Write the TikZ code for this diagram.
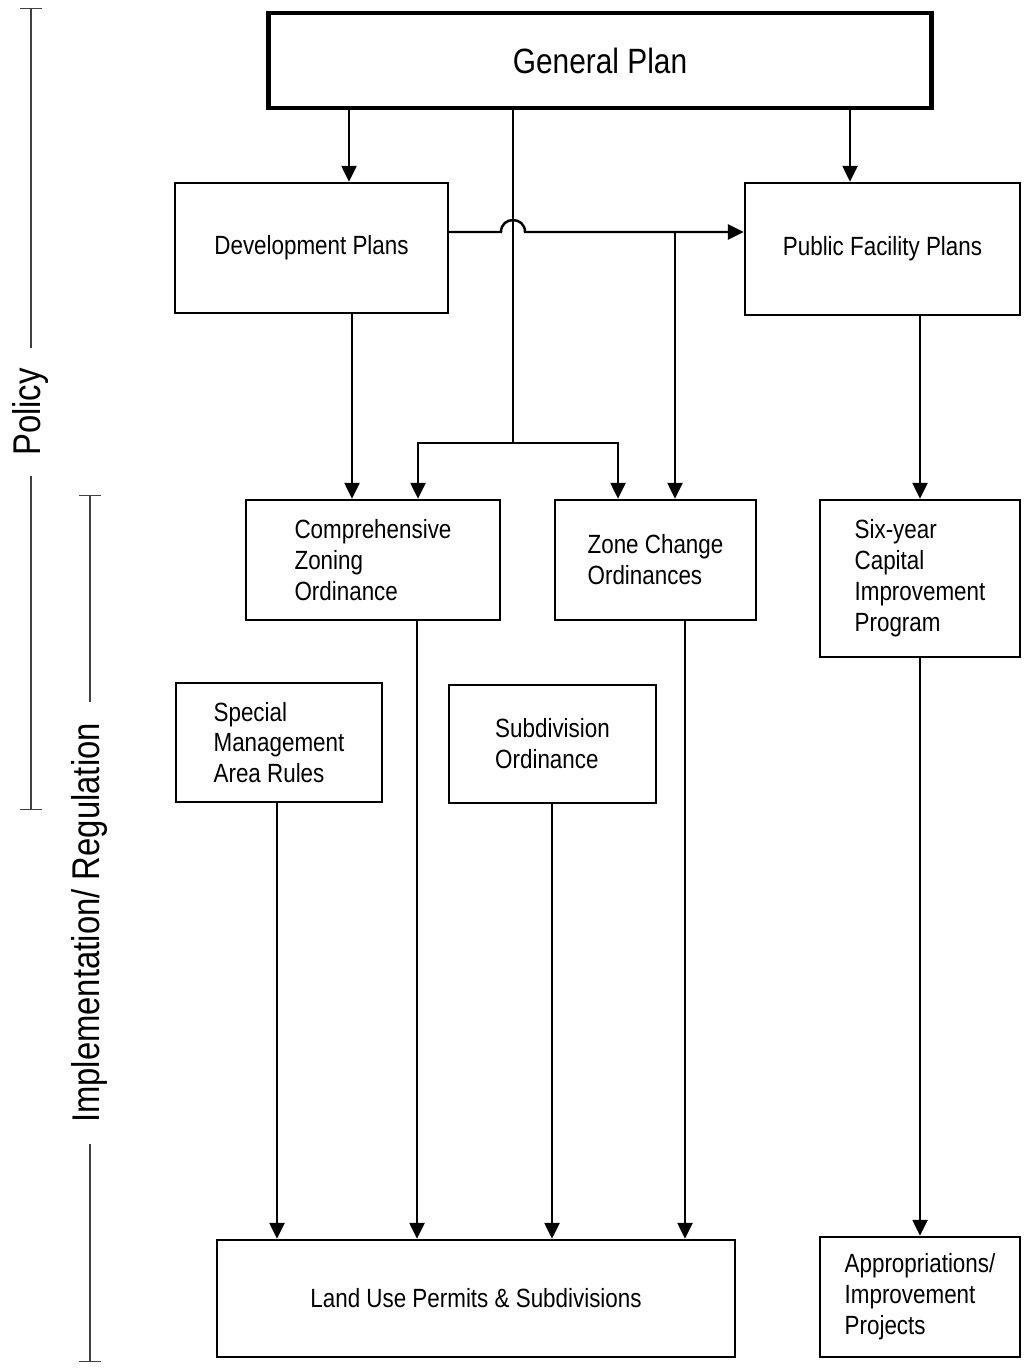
\documentclass[tikz,border=0pt]{standalone}
\usepackage{fontspec}
\setmainfont{Liberation Sans}[FakeStretch=0.85]
\usetikzlibrary{arrows.meta}

\begin{document}
\begin{tikzpicture}[x=0.02cm,y=-0.02cm,
		ln/.style={line width=1.4pt},
		box/.style={draw,line width=1.4pt,inner sep=0pt,align=left,font=\fontsize{15}{17.6}\selectfont},
		arr/.style={ln,-{Triangle[length=0.32cm,width=0.3cm]}},
		brk/.style={line width=0.7pt,black!75,-{Bar[width=0.44cm]}},
		side/.style={rotate=90,inner xsep=11.5pt,inner ysep=0pt,font=\fontsize{22}{26}\selectfont}]
	\useasboundingbox (0,0) rectangle (1027,1368);

	\node[box,line width=2.8pt,minimum width=13.28cm,minimum height=1.9cm,font=\fontsize{20}{24}\selectfont]	(0)	at (600,60.5)	{General Plan};
	\node[box,minimum width=5.46cm,minimum height=2.6cm]	(1)	at (311.5,248)	{Development Plans};
	\node[box,minimum width=5.5cm,minimum height=2.64cm]	(2)	at (882.5,249)	{Public Facility Plans};
	\node[box,minimum width=5.08cm,minimum height=2.4cm]	(3)	at (373,560)	{Comprehensive\\Zoning\\Ordinance};
	\node[box,minimum width=4.02cm,minimum height=2.4cm]	(4)	at (655.5,560)	{Zone Change\\Ordinances};
	\node[box,minimum width=4cm,minimum height=3.14cm]		(5)	at (920,578.5)	{Six-year\\Capital\\Improvement\\Program};
	\node[box,minimum width=4.12cm,minimum height=2.38cm]	(6)	at (279,742.5)	{Special\\Management\\Area Rules};
	\node[box,minimum width=4.14cm,minimum height=2.36cm]	(7)	at (552.5,744)	{Subdivision\\Ordinance};
	\node[box,minimum width=10.36cm,minimum height=2.34cm]	(8)	at (476,1298.5)	{Land Use Permits \& Subdivisions};
	\node[box,minimum width=4cm,minimum height=2.4cm]		(9)	at (920,1297)	{Appropriations/\\Improvement\\Projects};

	\node[side]	(p)	at (31,412)	{Policy};
	\node[side]	(q)	at (90,923)	{Implementation/ Regulation};

	\coordinate	(a)	at (513,443);
	\coordinate	(h)	at (513,232);
	\coordinate	(j)	at (675,232);

	\draw[arr] (0.south -| 349,0) -- (1.north -| 349,0);
	\draw[arr] (0.south -| 850,0) -- (2.north -| 850,0);
	\draw[ln] (0.south -| a) -- (a);
	\draw[arr] (a) -| (3.north -| 418,0);
	\draw[arr] (a) -| (4.north -| 618,0);
	\draw[arr] (1.east |- h) -- ([xshift=-0.24cm]h) to[out=90,in=90,looseness=1.7] ([xshift=0.24cm]h) -- (2.west |- h);
	\draw[arr] (j) -- (4.north -| j);
	\draw[arr] (1.south -| 352,0) -- (3.north -| 352,0);
	\draw[arr] (2.south -| 5.north) -- (5.north);
	\draw[arr] (5.south) -- (9.north);
	\draw[arr] (6.south -| 277,0) -- (8.north -| 277,0);
	\draw[arr] (3.south -| 417,0) -- (8.north -| 417,0);
	\draw[arr] (7.south -| 552,0) -- (8.north -| 552,0);
	\draw[arr] (4.south -| 685,0) -- (8.north -| 685,0);

	\draw[brk] (p.east) -- (p.east |- 0,8);
	\draw[brk] (p.west) -- (p.west |- 0,810);
	\draw[brk] (q.east) -- (q.east |- 0,495);
	\draw[brk] (q.west) -- (q.west |- 0,1362);
\end{tikzpicture}
\end{document}
